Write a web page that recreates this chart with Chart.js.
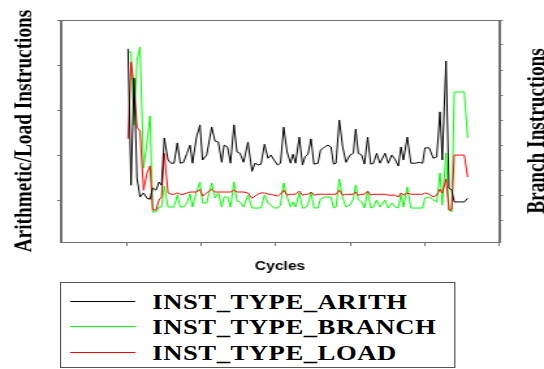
<!DOCTYPE html>
<html>
<head>
<meta charset="utf-8">
<script src="https://cdn.jsdelivr.net/npm/chart.js@4/dist/chart.umd.min.js"></script>
<style>
  html, body { margin: 0; padding: 0; background: #fff; overflow: hidden; }
  /* the reference is drawn horizontally stretched, so the whole stage is widened */
  #stage { position: absolute; left: 0; top: 0; width: 418px; height: 369px;
           transform: scaleX(1.3014); transform-origin: 0 0; }
  #chart { position: absolute; left: 0; top: 0; }
  #legend { position: absolute; left: 46px; top: 282px; width: 304px; height: 86px;
            border: 1px solid #555; box-sizing: border-box; background: #fff; }
  .swatch { position: absolute; left: 7px; width: 50px; height: 0; border-top: 1px solid; }
  .label { position: absolute; left: 70px; font: bold 20.5px "Liberation Serif", serif;
           letter-spacing: 0.4px; line-height: 1; transform: translateY(-50%); color: #000; white-space: nowrap; }
</style>
</head>
<body>
<div id="stage">
  <canvas id="chart" width="418" height="369"></canvas>
  <div id="legend"></div>
</div>
<script>
const cycles = [13, 54, 94, 134, 175, 222, 269, 309, 345, 390, 430, 464, 501, 551, 591, 632, 676, 716, 759, 806,
  847, 880, 934, 981, 1015, 1071, 1138, 1183, 1227, 1273, 1304, 1351, 1391, 1438, 1478, 1519, 1566, 1626, 1680, 1720,
  1761, 1801, 1848, 1895, 1935, 1976, 2023, 2063, 2106, 2151, 2198, 2231, 2265, 2316, 2359, 2392, 2433, 2473, 2513, 2567,
  2601, 2655, 2702, 2742, 2776, 2809, 2853, 2899, 2944, 2997, 3042, 3074, 3109, 3155, 3192, 3235, 3276, 3313, 3356, 3401,
  3468, 3512, 3558, 3602, 3647, 3683, 3716, 3767, 3817, 3880, 3929, 3974, 4005, 4063, 4117, 4163, 4207, 4238, 4288, 4328,
  4364, 4399, 4476, 4534, 4579];

const arith = [436, 133, 371, 149, 107, 116, 104, 102, 127, 122, 140, 133, 238, 189, 182, 182, 227, 182, 184, 204,
  222, 182, 240, 267, 189, 200, 262, 231, 229, 184, 222, 218, 182, 267, 207, 204, 184, 229, 164, 182,
  178, 180, 224, 193, 200, 189, 178, 182, 262, 207, 182, 202, 182, 240, 178, 196, 202, 236, 180, 182,
  211, 218, 222, 218, 180, 182, 278, 218, 184, 200, 204, 258, 204, 200, 180, 240, 180, 182, 204, 182,
  204, 182, 200, 191, 176, 218, 189, 240, 182, 182, 184, 182, 216, 216, 193, 196, 296, 189, 409, 127,
  122, 96, 96, 96, 104];

const load = [236, 407, 356, 262, 253, 122, 160, 176, 78, 78, 100, 107, 204, 116, 113, 113, 116, 113, 113, 116,
  118, 118, 118, 124, 109, 116, 124, 118, 118, 118, 118, 118, 118, 122, 118, 118, 118, 116, 104, 109,
  113, 116, 116, 113, 113, 111, 109, 113, 122, 111, 113, 113, 113, 120, 111, 113, 113, 118, 111, 113,
  113, 113, 113, 113, 113, 113, 122, 111, 113, 113, 113, 118, 111, 113, 113, 120, 111, 113, 113, 113,
  113, 111, 111, 111, 107, 116, 111, 116, 113, 113, 113, 113, 116, 113, 107, 111, 124, 116, 147, 78,
  78, 200, 200, 200, 151];

const branch = [77.2, 77.2, 48, 74, 79.2, 30.8, 41.2, 51.6, 13.2, 13.2, 15.2, 15.2, 23.6, 15.2, 15.2, 15.2, 20, 15.2, 15.2, 16.8,
  20.4, 15.2, 21.2, 25.2, 16.8, 16.8, 24.8, 18.8, 20.8, 15.2, 19.2, 19.2, 15.2, 25.2, 17.6, 17.2, 15.2, 20, 14.8, 14.8,
  14.8, 14.8, 20, 16.8, 16, 14.8, 14.8, 16, 24.8, 19.2, 15.2, 17.2, 15.2, 20.8, 14.8, 14.8, 16, 21.2, 14.8, 14.8,
  18.4, 19.2, 19.2, 19.2, 14.8, 15.2, 26.4, 18.8, 15.2, 16, 18.4, 24, 18, 17.2, 14.8, 21.6, 14.8, 15.2, 18, 15.2,
  18, 14.8, 16.8, 15.2, 14.8, 20, 15.2, 23.2, 14.8, 14.8, 14.8, 14.8, 18.8, 19.2, 18, 17.2, 28.8, 16, 36.8, 14,
  13.2, 61.2, 61.2, 61.2, 42.8];

const seriesNames = ['INST_TYPE_ARITH', 'INST_TYPE_BRANCH', 'INST_TYPE_LOAD'];
const seriesColors = ['#000000', '#00ff00', '#ff0000'];
const cycleTicks = [0, 1000, 2000, 3000, 4000, 5000];
const leftTicks = [100, 200, 300, 400, 500];
const rightTicks = [10, 20, 30, 40, 50, 60, 70, 80, 90];
const xTitle = 'Cycles';
const leftTitle = 'Arithmetic/Load Instructions';
const rightTitle = 'Branch Instructions';

const axisGray = '#707070';
const points = vals => cycles.map((c, i) => ({ x: c, y: vals[i] }));
const fixTicks = list => scale => { scale.ticks = list.map(v => ({ value: v })); };

// outline of the plot area (top edge has no axis of its own)
const frame = {
  id: 'frame',
  afterDatasetsDraw(chart) {
    const { ctx, chartArea: a } = chart;
    ctx.save();
    ctx.strokeStyle = axisGray;
    ctx.lineWidth = 1;
    ctx.strokeRect(Math.round(a.left) + 0.5, Math.round(a.top) + 0.5,
      Math.round(a.right - a.left), Math.round(a.bottom - a.top));
    ctx.restore();
  }
};

// right axis title reads bottom-to-top like the left one
const sideTitle = {
  id: 'sideTitle',
  afterDraw(chart) {
    const { ctx, chartArea: a } = chart;
    ctx.save();
    ctx.translate(chart.width - 5, (a.top + a.bottom) / 2);
    ctx.rotate(-Math.PI / 2);
    ctx.font = 'bold 19.3px "Liberation Serif"';
    ctx.fillStyle = '#000';
    ctx.textAlign = 'center';
    ctx.textBaseline = 'middle';
    ctx.fillText(rightTitle, 0, 0);
    ctx.restore();
  }
};

const chart = new Chart(document.getElementById('chart'), {
  type: 'line',
  data: {
    datasets: [
      { label: seriesNames[0], data: points(arith), borderColor: seriesColors[0], yAxisID: 'y', order: 1 },
      { label: seriesNames[1], data: points(branch), borderColor: seriesColors[1], yAxisID: 'y1', order: 3 },
      { label: seriesNames[2], data: points(load), borderColor: seriesColors[2], yAxisID: 'y', order: 2 }
    ]
  },
  options: {
    responsive: false,
    animation: false,
    layout: { padding: { top: 20, left: 0, right: 0, bottom: 0 }, autoPadding: false },
    datasets: { line: { borderWidth: 1, pointRadius: 0, tension: 0, fill: false } },
    plugins: { legend: { display: false }, tooltip: { enabled: false } },
    scales: {
      x: {
        type: 'linear', position: 'bottom', min: -887, max: 5000, bounds: 'data',
        afterBuildTicks: fixTicks(cycleTicks),
        afterFit: s => { s.height = 127; },
        ticks: { display: false },
        grid: { drawOnChartArea: false, drawTicks: true, tickLength: 4, color: axisGray },
        border: { color: axisGray },
        title: { display: true, text: xTitle, color: '#000',
                 font: { family: '"Liberation Sans"', weight: 'bold', size: 12 },
                 padding: { top: 0, bottom: 95.3 } }
      },
      y: {
        type: 'linear', position: 'left', min: 7, max: 500, bounds: 'data',
        afterBuildTicks: fixTicks(leftTicks),
        afterFit: s => { s.width = 46.9; },
        ticks: { display: false },
        grid: { drawOnChartArea: false, drawTicks: true, tickLength: 3, color: axisGray },
        border: { color: axisGray },
        title: { display: true, text: leftTitle, color: '#000',
                 font: { family: '"Liberation Serif"', weight: 'bold', size: 19.3 },
                 padding: { top: 7.1, bottom: 0 } }
      },
      y1: {
        type: 'linear', position: 'right', min: 1.2, max: 90, bounds: 'data',
        afterBuildTicks: fixTicks(rightTicks),
        afterFit: s => { s.width = 34.6; },
        ticks: { display: false },
        grid: { drawOnChartArea: false, drawTicks: true, tickLength: 3, color: axisGray },
        border: { color: axisGray },
        title: { display: false }
      }
    }
  },
  plugins: [frame, sideTitle]
});

// legend box built from the chart's own datasets
const legendRows = [18, 43, 68.5];
const legend = document.getElementById('legend');
chart.data.datasets.forEach((ds, i) => {
  const sw = document.createElement('div');
  sw.className = 'swatch';
  sw.style.top = legendRows[i] + 'px';
  sw.style.borderTopColor = ds.borderColor;
  const tx = document.createElement('div');
  tx.className = 'label';
  tx.style.top = (legendRows[i] + 1) + 'px';
  tx.textContent = ds.label;
  legend.appendChild(sw);
  legend.appendChild(tx);
});
</script>
</body>
</html>
